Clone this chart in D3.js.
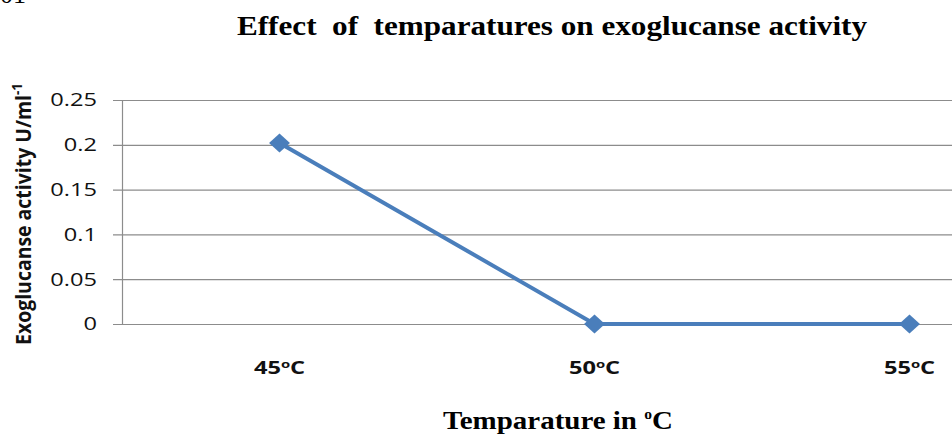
<!DOCTYPE html>
<html>
<head>
<meta charset="utf-8">
<script src="https://cdn.jsdelivr.net/npm/d3@7"></script>
<style>
  body { margin: 0; background: #fff; }
  svg { display: block; }
</style>
</head>
<body>
<div id="chart"></div>
<script>
// chart data
var categories = ["45", "50", "55"];
var activity = [0.202, 0, 0];
var yTicks = [0, 0.05, 0.1, 0.15, 0.2, 0.25];
var yTickLabels = ["0", "0.05", "0.1", "0.15", "0.2", "0.25"];
var chartTitle = "Effect  of  temparatures on exoglucanse activity";
var xTitle = "Temparature in ";
var yTitle = "Exoglucanse activity U/ml";

var W = 952, H = 436;
var stretch = 1.35; // picture is stretched sideways, so the text is too
var plot = { left: 122, top: 100, bottom: 324, right: 1067 };

var svg = d3.select("#chart").append("svg")
    .attr("width", W)
    .attr("height", H);

var xScale = d3.scaleBand()
    .domain(categories)
    .range([plot.left, plot.right]);
var yScale = d3.scaleLinear()
    .domain([0, 0.25])
    .range([plot.bottom, plot.top]);

// squeeze / stretch a text so it fills a measured width
function fitWidth(sel, target) {
  var w = sel.node().getBBox().width;
  var t = sel.attr("data-t");
  sel.attr("transform", t + " scale(" + (target / w) + ",1)");
}

// gridlines
svg.append("g").selectAll("line")
  .data(yTicks)
  .join("line")
    .attr("x1", plot.left - 9)
    .attr("x2", W)
    .attr("y1", d => yScale(d) + 0.5)
    .attr("y2", d => yScale(d) + 0.5)
    .attr("stroke", "#8c8c8c")
    .attr("stroke-width", 1.2);

// vertical axis line
svg.append("line")
    .attr("x1", plot.left + 0.5).attr("x2", plot.left + 0.5)
    .attr("y1", plot.top).attr("y2", plot.bottom)
    .attr("stroke", "#8c8c8c")
    .attr("stroke-width", 1.2);

// y tick labels
svg.append("g").selectAll("text")
  .data(yTicks)
  .join("text")
    .attr("transform", d => "translate(97," + yScale(d) + ") scale(" + stretch + ",1)")
    .attr("text-anchor", "end")
    .attr("dy", "0.36em")
    .style("font-family", "'Open Sans', sans-serif")
    .style("font-size", "17.5px")
    .style("fill", "#111")
    .text((d, i) => yTickLabels[i]);

// x tick labels
var xl = svg.append("g").selectAll("text")
  .data(categories)
  .join("text")
    .attr("transform", d => "translate(" + (xScale(d) + xScale.bandwidth() / 2) + ",374) scale(" + stretch + ",1)")
    .attr("text-anchor", "middle")
    .style("font-family", "'Open Sans', sans-serif")
    .style("font-weight", "bold")
    .style("font-size", "17.5px")
    .style("fill", "#111");
xl.append("tspan").text(d => d);
xl.append("tspan").attr("dy", -6).style("font-size", "11px").text("o");
xl.append("tspan").attr("dy", 6).text("C");

// data line
var line = d3.line()
    .x((d, i) => xScale(categories[i]) + xScale.bandwidth() / 2)
    .y(d => yScale(d));

svg.append("path")
    .datum(activity)
    .attr("d", line)
    .attr("fill", "none")
    .attr("stroke", "#4a7ebb")
    .attr("stroke-width", 4)
    .attr("stroke-linejoin", "round");

// diamond markers
svg.append("g").selectAll("path")
  .data(activity)
  .join("path")
    .attr("transform", (d, i) => "translate(" + (xScale(categories[i]) + xScale.bandwidth() / 2) + "," + yScale(d) + ") scale(1.1,1)")
    .attr("d", d3.symbol().type(d3.symbolDiamond2).size(230))
    .attr("fill", "#4a7ebb");

// y axis title
var yt = svg.append("text")
    .attr("data-t", "translate(31,214) scale(" + stretch + ",1) rotate(-90)")
    .attr("text-anchor", "middle")
    .style("font-family", "'Open Sans', sans-serif")
    .style("font-weight", "bold")
    .style("font-size", "16px")
    .style("fill", "#111");
yt.append("tspan").text(yTitle);
yt.append("tspan").attr("dy", -7).style("font-size", "11px").text("-1");
fitWidth(yt, 262);

// chart title
var ct = svg.append("text")
    .attr("data-t", "translate(552,35)")
    .attr("text-anchor", "middle")
    .style("font-family", "'Liberation Serif', 'Times New Roman', serif")
    .style("font-weight", "bold")
    .style("font-size", "27px")
    .style("fill", "#000")
    .style("white-space", "pre")
    .text(chartTitle);
fitWidth(ct, 631);

// x axis title
var xt = svg.append("text")
    .attr("data-t", "translate(558,429)")
    .attr("text-anchor", "middle")
    .style("font-family", "'Liberation Serif', 'Times New Roman', serif")
    .style("font-weight", "bold")
    .style("font-size", "26px")
    .style("fill", "#000");
xt.append("tspan").text(xTitle);
xt.append("tspan").attr("dy", -10).style("font-size", "14px").text("o");
xt.append("tspan").attr("dy", 10).text("C");
fitWidth(xt, 230);

// page number cut off at the top edge
svg.append("text")
    .attr("x", 0)
    .attr("y", 3)
    .style("font-family", "'Liberation Serif', serif")
    .style("font-size", "26px")
    .style("fill", "#000")
    .text("01");
</script>
</body>
</html>
